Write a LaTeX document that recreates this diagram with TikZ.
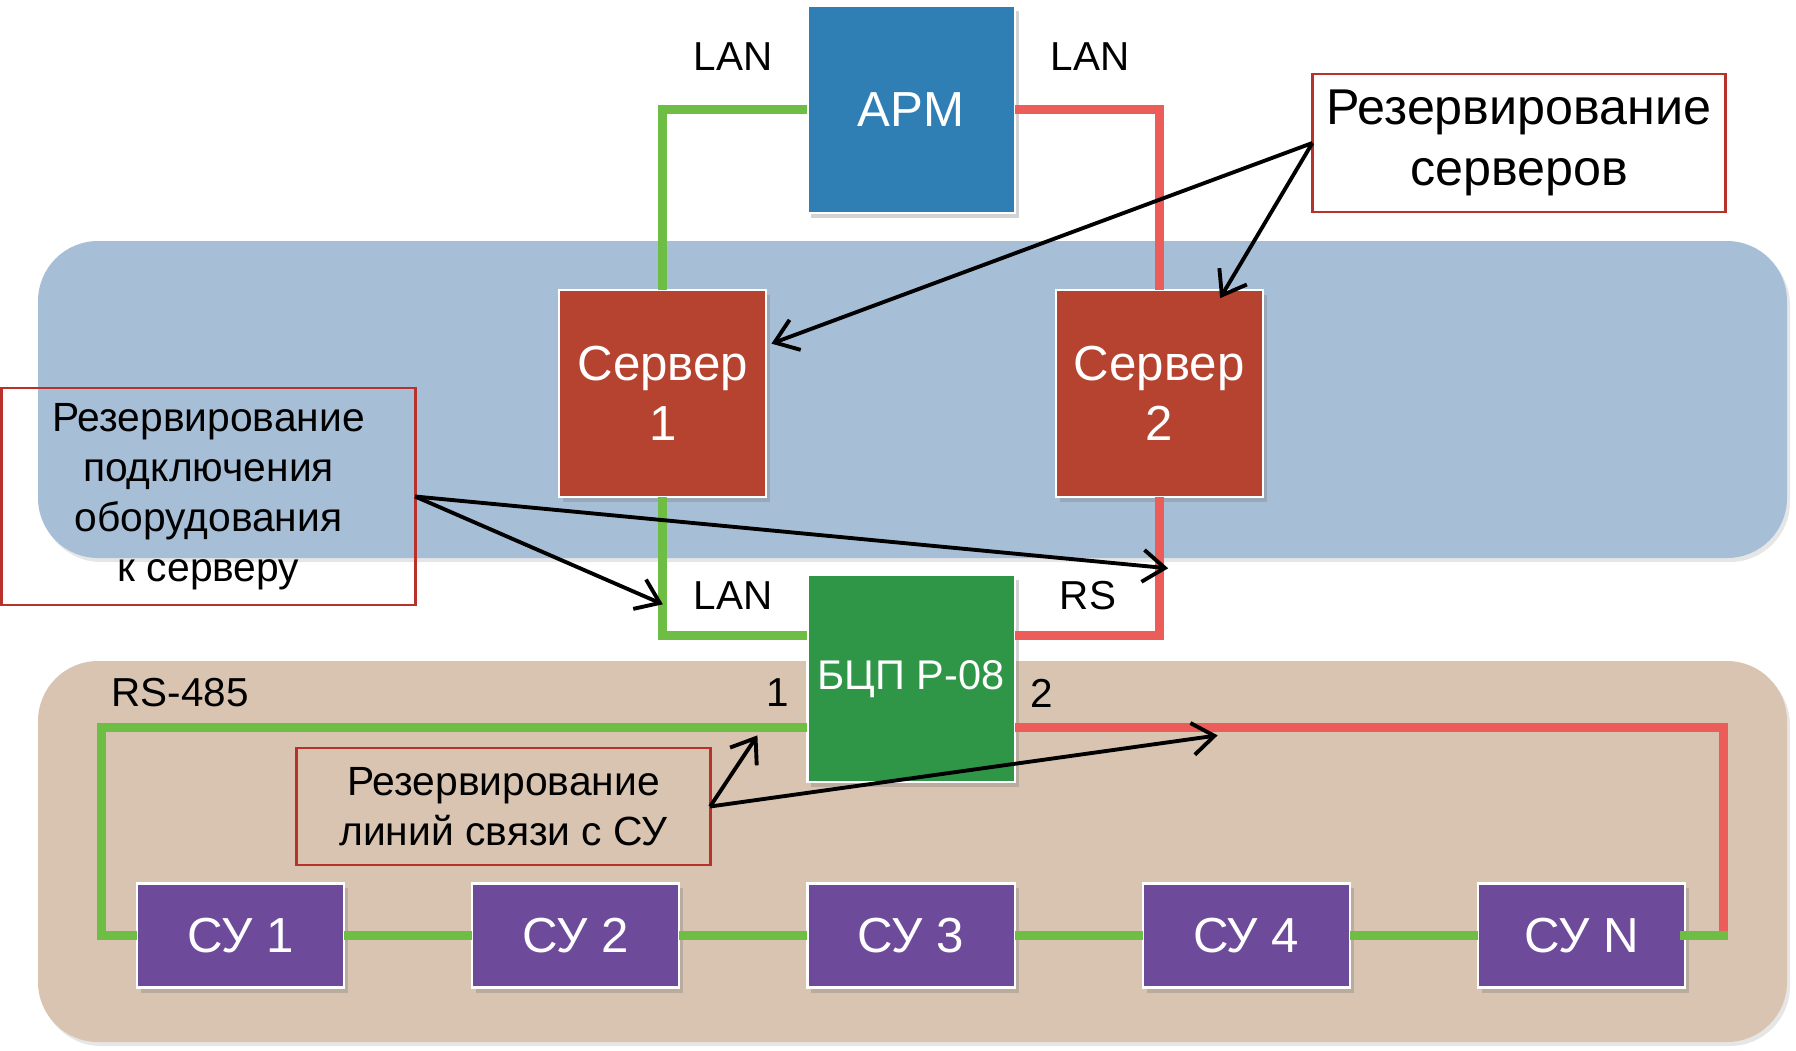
\documentclass[tikz,border=0pt]{standalone}
\usepackage{fontspec}
\setmainfont{Liberation Sans}
\usetikzlibrary{positioning,shadows,arrows.meta}

\definecolor{apmblue}{HTML}{2F7FB5}
\definecolor{srvred}{HTML}{B54330}
\definecolor{bcpgreen}{HTML}{2E9646}
\definecolor{suviolet}{HTML}{6E4A9B}
\definecolor{bandblue}{HTML}{A7BED7}
\definecolor{bandtan}{HTML}{D8C4B0}
\definecolor{langreen}{HTML}{6EBE46}
\definecolor{rsred}{HTML}{EC5C58}
\definecolor{notered}{HTML}{B8312A}

\begin{document}
\begin{tikzpicture}[x=0.01cm,y=-0.01cm,node distance=1.28cm]
	\tikzstyle{box}=[rectangle,draw=white,line width=0.6pt,outer sep=0pt,text=white,minimum width=2.07cm,minimum height=2.07cm,align=center,font=\fontsize{14}{17}\selectfont,drop shadow={opacity=0.35,shadow xshift=0.04cm,shadow yshift=-0.05cm}]
	\tikzstyle{su}=[box,fill=suviolet,minimum height=1.04cm]
	\tikzstyle{note}=[rectangle,draw=notered,line width=0.8pt,outer sep=0pt,text=black,align=center,minimum width=4.13cm]
	\tikzstyle{lbl}=[font=\fontsize{11.5}{14}\selectfont]
	\tikzstyle{lanline}=[draw=langreen,line width=0.09cm]
	\tikzstyle{rsline}=[draw=rsred,line width=0.09cm]
	\tikzstyle{hint}=[draw=black,line width=1.1pt,-{Straight Barb[length=2.2mm,width=3.2mm]}]
	\useasboundingbox (0,0) rectangle (1796,1051);
	% bands
	\fill[bandblue,rounded corners=0.6cm,drop shadow={opacity=0.2,shadow xshift=0.03cm,shadow yshift=-0.04cm}] (38,241) rectangle (1787,558);
	\fill[bandtan,rounded corners=0.6cm,drop shadow={opacity=0.2,shadow xshift=0.03cm,shadow yshift=-0.04cm}] (38,661) rectangle (1787,1042);
		\node[box,fill=apmblue] (apm) at (911,109.5) {АРМ};
		\node[box,fill=srvred] (srv1) [below left=0.77cm and 0.41cm of apm] {Сервер\\1};
		\node[box,fill=srvred] (srv2) [right=2.89cm of srv1] {Сервер\\2};
		\node[box,fill=bcpgreen,inner sep=1pt,font=\fontsize{11.8}{14}\selectfont] (bcp) [below right=0.78cm and 0.41cm of srv1] {БЦП Р-08};
		\node[su] (su3) [below=1.01cm of bcp] {СУ 3};
		\node[su] (su2) [left=of su3] {СУ 2};
		\node[su] (su1) [left=of su2] {СУ 1};
		\node[su] (su4) [right=of su3] {СУ 4};
		\node[su] (suN) [right=of su4] {СУ N};
			\coordinate (busL) at ([xshift=-0.36cm]su1.west);
			\coordinate (busR) at ([xshift=0.39cm]suN.east);
			\draw[lanline] (apm.west) -| (srv1.north);
			\draw[rsline] (apm.east) -| (srv2.north);
			\draw[lanline] (srv1.south) |- ([yshift=0.43cm]bcp.west);
			\draw[rsline] (srv2.south) |- ([yshift=0.43cm]bcp.east);
			\draw[lanline] ([yshift=-0.485cm]bcp.west) -| (busL) -- (su1.west);
			\draw[lanline] (su1.east) -- (su2.west);
			\draw[lanline] (su2.east) -- (su3.west);
			\draw[lanline] (su3.east) -- (su4.west);
			\draw[lanline] (su4.east) -- (suN.west);
			\draw[rsline] ([yshift=-0.485cm]bcp.east) -| (busR);
			\draw[lanline,line cap=rect] (suN.east) -- (busR);
		\node[lbl] (lan1) at (733,57) {LAN};
		\node[lbl] (lan2) at (1090,57) {LAN};
		\node[lbl] (lan3) at (733,596) {LAN};
		\node[lbl] (rs) at (1088,596) {RS};
		\node[lbl] (rs485) at (180,693) {RS-485};
		\node[lbl] (port1) at (778,693) {1};
		\node[lbl] (port2) at (1042,693) {2};
		% notes
		\node[note,font=\fontsize{14.3}{17.5}\selectfont,minimum height=1.38cm] (note1) at (1519,143) {Резервирование\\серверов};
		\node[note,font=\fontsize{11.6}{14.2}\selectfont,minimum height=2.17cm] (note2) at (208.5,496.5) {Резервирование\\подключения\\оборудования\\к серверу};
		\node[note,font=\fontsize{11.6}{14.2}\selectfont,minimum height=1.17cm] (note3) at (503.5,806.5) {Резервирование\\линий связи с СУ};
			\coordinate (lantap) at ([yshift=-1.07cm]srv1.south);
			\coordinate (rstap) at ([xshift=0.09cm,yshift=-0.71cm]srv2.south);
			\coordinate (bus1) at ([xshift=-0.5cm,yshift=-0.565cm]bcp.west);
			\coordinate (bus2) at ([xshift=2.03cm,yshift=-0.565cm]bcp.east);
			\draw[hint] (note1.west) -- ([xshift=0.05cm,yshift=0.5cm]srv1.east);
			\draw[hint] (note1.west) -- ([xshift=0.61cm,yshift=-0.08cm]srv2.north);
			\draw[hint] (note2.east) -- (lantap);
			\draw[hint] (note2.east) -- (rstap);
			\draw[hint] (note3.east) -- (bus1);
			\draw[hint] (note3.east) -- (bus2);
\end{tikzpicture}
\end{document}
